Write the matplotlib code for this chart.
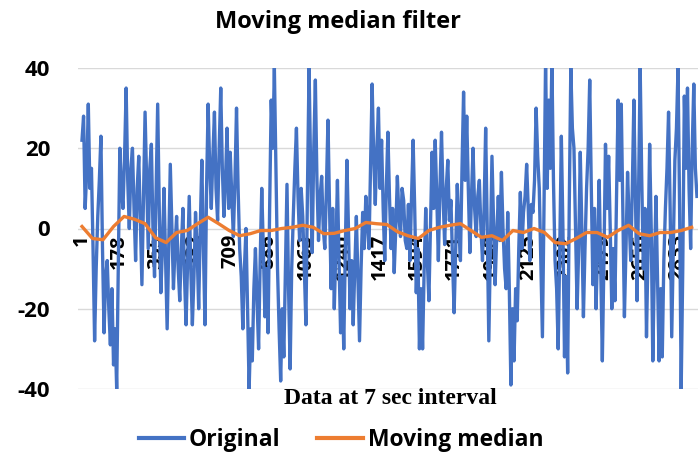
import numpy as np
import matplotlib
matplotlib.use("Agg")
import matplotlib.pyplot as plt

plt.rcParams["axes.unicode_minus"] = False

# raw signal, one reading every 7.5 samples
original = [
    22, 28, 5, 14, 31, 10, 15, -5, -28, -10, 3, 12, 23, -5, -26, -12,
    -8, -20, -29, -15, -34, -25, -40, -10, 20, 10, 5, 18, 35, 12, 0, 15,
    20, 5, -8, 10, 18, 2, -14, 8, 29, 12, -5, 15, 21, 0, -12, 10,
    31, 5, -16, -5, 10, -8, -25, -5, 16, 0, -15, -5, 3, -10, -18, -5,
    5, -12, -24, -8, 8, -10, -24, -12, 4, -5, -20, 0, 17, -5, -24, 10,
    31, 15, 5, 18, 29, 10, 2, 20, 35, 15, 3, 12, 25, 5, 19, 8,
    -2, 12, 30, 10, -5, -12, -25, -10, 0, -20, -40, -25, -33, -15, -5, -18,
    -30, -8, 10, -5, -22, -10, -26, 5, 32, 20, 40, 15, -10, -25, -38, -20,
    -32, -10, 11, -15, -35, -10, 3, 15, 25, 8, -3, 10, 3, -10, -24, 10,
    40, 15, -6, 20, 37, 12, -3, 8, 13, 0, -5, 10, 27, 5, -15, 5,
    -20, -5, 12, -8, -26, -12, -30, -5, 17, 0, -20, -8, -24, -10, 3, -12,
    -28, -10, 4, -5, 8, 2, -5, 15, 36, 18, 6, 20, 30, 10, 22, 5,
    -8, 10, 24, 8, -5, 5, -11, 0, 13, 3, -2, 10, 7, -3, -5, 6,
    -8, 8, 22, 5, -16, -5, -30, -15, -30, -10, 5, -8, -18, 0, 19, 5,
    22, 8, -8, 10, 24, 8, -4, 10, 17, 2, 7, -8, -21, -5, 11, 0,
    -8, 15, 34, 12, 28, 10, -6, 8, 20, 5, -2, 8, 12, 0, -8, 5,
    25, 0, -28, -5, 18, 2, -14, -2, 8, -3, 14, 0, -10, -15, 4, -15,
    -39, -20, -33, -15, -23, -5, 9, -5, 4, 8, 16, 5, -8, 6, 4, 12,
    30, 18, 10, -8, -27, 5, 42, 10, 32, 15, 42, 12, -8, -15, -30, -5,
    23, 0, -32, -12, -36, 5, 40, 25, 20, 0, -20, -5, 19, 0, -22, -5,
    10, 20, 37, 10, -14, 5, -20, -5, 12, -10, -33, -8, 21, 5, 18, 0,
    -20, -5, -18, 8, 32, 12, 31, 5, -22, -5, 14, 2, -8, 10, 32, 8,
    -18, 10, 40, 12, -10, 5, -27, -5, 21, 0, -33, -10, 8, -12, -33, -15,
    -32, -8, 5, 15, 29, 5, -27, -5, 17, 25, 40, 5, -40, -10, 33, 15,
    35, 10, -5, 20, 36, 15, 8,
]
orig_step = 7.5

# moving median, one reading every 50 samples
moving_median = [
    0.5, -2.5, -2.8, 0.5, 3.0, 2.3, 1.2, -2.3, -3.5, -1.0, -0.5, 1.2,
    2.8, 1.2, -0.5, -1.8, -1.3, -0.5, -0.5, 0.0, 0.3, 0.8, 0.3, -1.3,
    -1.2, -0.5, 0.0, 1.5, 1.2, 1.0, -0.8, -1.8, -2.5, -0.5, 0.3, 0.8,
    1.2, -0.5, -2.2, -1.8, -3.0, -0.5, -1.0, 0.0, -1.0, -3.5, -3.8, -2.5,
    -1.0, -1.0, -2.2, -0.5, 0.8, -1.3, -1.8, -1.0, -1.0, -0.5, 0.3,
]
med_step = 50

tick_labels = [1, 178, 355, 532, 709, 886, 1063, 1240, 1417, 1594,
               1771, 1948, 2125, 2302, 2479, 2656, 2833]

x_orig = 1 + orig_step * np.arange(len(original))
x_med = 1 + med_step * np.arange(len(moving_median))

blue = "#4472C4"
orange = "#ED7D31"
sans = "Open Sans"

fig = plt.figure(figsize=(6.98, 4.54), dpi=100)
ax = fig.add_axes([78 / 698, 1 - 389 / 454, 620 / 698, 321 / 454])

ax.plot(x_orig, original, color=blue, lw=2.4, label="Original", zorder=2)
ax.plot(x_med, moving_median, color=orange, lw=2.4, label="Moving median", zorder=3)

ax.set_xlim(-18, 2931)
ax.set_ylim(-40, 40)
ax.set_yticks([-40, -20, 0, 20, 40])
ax.grid(axis="y", color="#D9D9D9", lw=1)
ax.set_axisbelow(True)

for s in ax.spines.values():
    s.set_visible(False)
ax.spines["bottom"].set_position(("data", 0))

ax.set_xticks(tick_labels)
ax.set_xticklabels([str(t) for t in tick_labels], rotation=90, va="top",
                   fontsize=14.5, fontweight="bold", family=sans)
ax.tick_params(axis="x", length=0, pad=4)
ax.tick_params(axis="y", length=0, pad=20)
for lab in ax.get_yticklabels():
    lab.set_fontsize(16)
    lab.set_fontweight("bold")
    lab.set_family(sans)

fig.text(338 / 698, 1 - 22 / 454, "Moving median filter", ha="center", va="center",
         fontsize=17, fontweight="bold", family=sans)
fig.text(390 / 698, 1 - 398 / 454, "Data at 7 sec interval", ha="center", va="center",
         fontsize=17, fontweight="bold", family="Liberation Serif")

leg = fig.legend(loc="center", bbox_to_anchor=(341 / 698, 1 - 440 / 454), ncol=2,
                 frameon=False, handlelength=2.0, handletextpad=0.2, columnspacing=1.6,
                 prop={"family": sans, "weight": "bold", "size": 16.5})
for h in leg.get_lines():
    h.set_linewidth(3)

fig.savefig("out.png", dpi=100)
